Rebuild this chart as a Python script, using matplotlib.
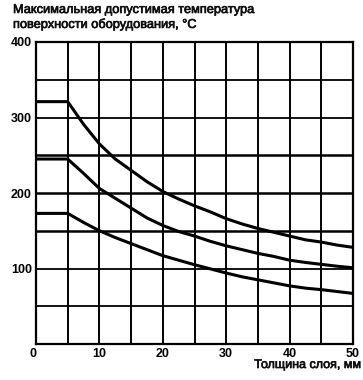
import matplotlib
matplotlib.use("Agg")
import matplotlib.pyplot as plt
import matplotlib.patheffects as pe

plt.rcParams['font.family'] = ['Liberation Sans', 'DejaVu Sans']

thickness = [0, 5, 7.5, 10, 12.5, 15, 17.5, 20, 22.5, 25, 27.5, 30,
             32.5, 35, 37.5, 40, 42.5, 45, 47.5, 50]
t_high = [321, 321, 291, 265, 245, 230, 215, 202, 192, 183, 175, 166,
          159, 153, 148, 143, 138, 135, 131, 128]
t_mid = [245, 245, 226, 206, 193, 180, 167, 157, 149, 143, 136, 130,
         125, 120, 116, 111, 108, 105.5, 103, 101]
t_low = [173, 173, 161, 150, 141, 133, 125, 117, 111, 105, 99.5, 94,
         89, 85, 81, 77, 74, 72, 69.5, 67]

x_ticks = [0, 10, 20, 30, 40, 50]
y_ticks = [100, 200, 300, 400]
title = "Максимальная допустимая температура\nповерхности оборудования, °C"
xlabel = "Толщина слоя, мм"

heavy = [pe.withStroke(linewidth=0.5, foreground='#111111')]

fig = plt.figure(figsize=(3.63, 3.8), dpi=100)
ax = fig.add_axes([36/363, 1-344/380, 317/363, 302/380])
ax.set_xlim(0, 50)
ax.set_ylim(0, 400)

for gx in range(5, 50, 5):
    ax.axvline(gx, color='black', lw=1.4, zorder=1)
for gy in range(50, 400, 50):
    ax.axhline(gy, color='black', lw=1.8 if gy in (150, 200, 250) else 1.3, zorder=1)

for series in (t_high, t_mid, t_low):
    ax.plot(thickness, series, color='black', lw=2.2, zorder=3,
            solid_capstyle='butt', solid_joinstyle='round')

for s in ax.spines.values():
    s.set_linewidth(1.6)
    s.set_color('black')

ax.set_xticks(x_ticks)
ax.set_yticks(y_ticks)
ax.tick_params(length=0, labelsize=9, pad=3)
ax.set_xticklabels([str(v) for v in x_ticks], fontweight='bold')
ax.set_yticklabels([str(v) for v in y_ticks], fontweight='bold')
lbls = ax.get_xticklabels()
lbls[0].set_horizontalalignment('right')

fig.text(13/363, 1-4/380, title, ha='left', va='top', fontsize=9.2,
         linespacing=1.2, color='#111111', path_effects=heavy)
fig.text(361/363, 1-359/380, xlabel, ha='right', va='top', fontsize=9,
         color='#111111', path_effects=heavy)

fig.savefig('out.png', dpi=100)
